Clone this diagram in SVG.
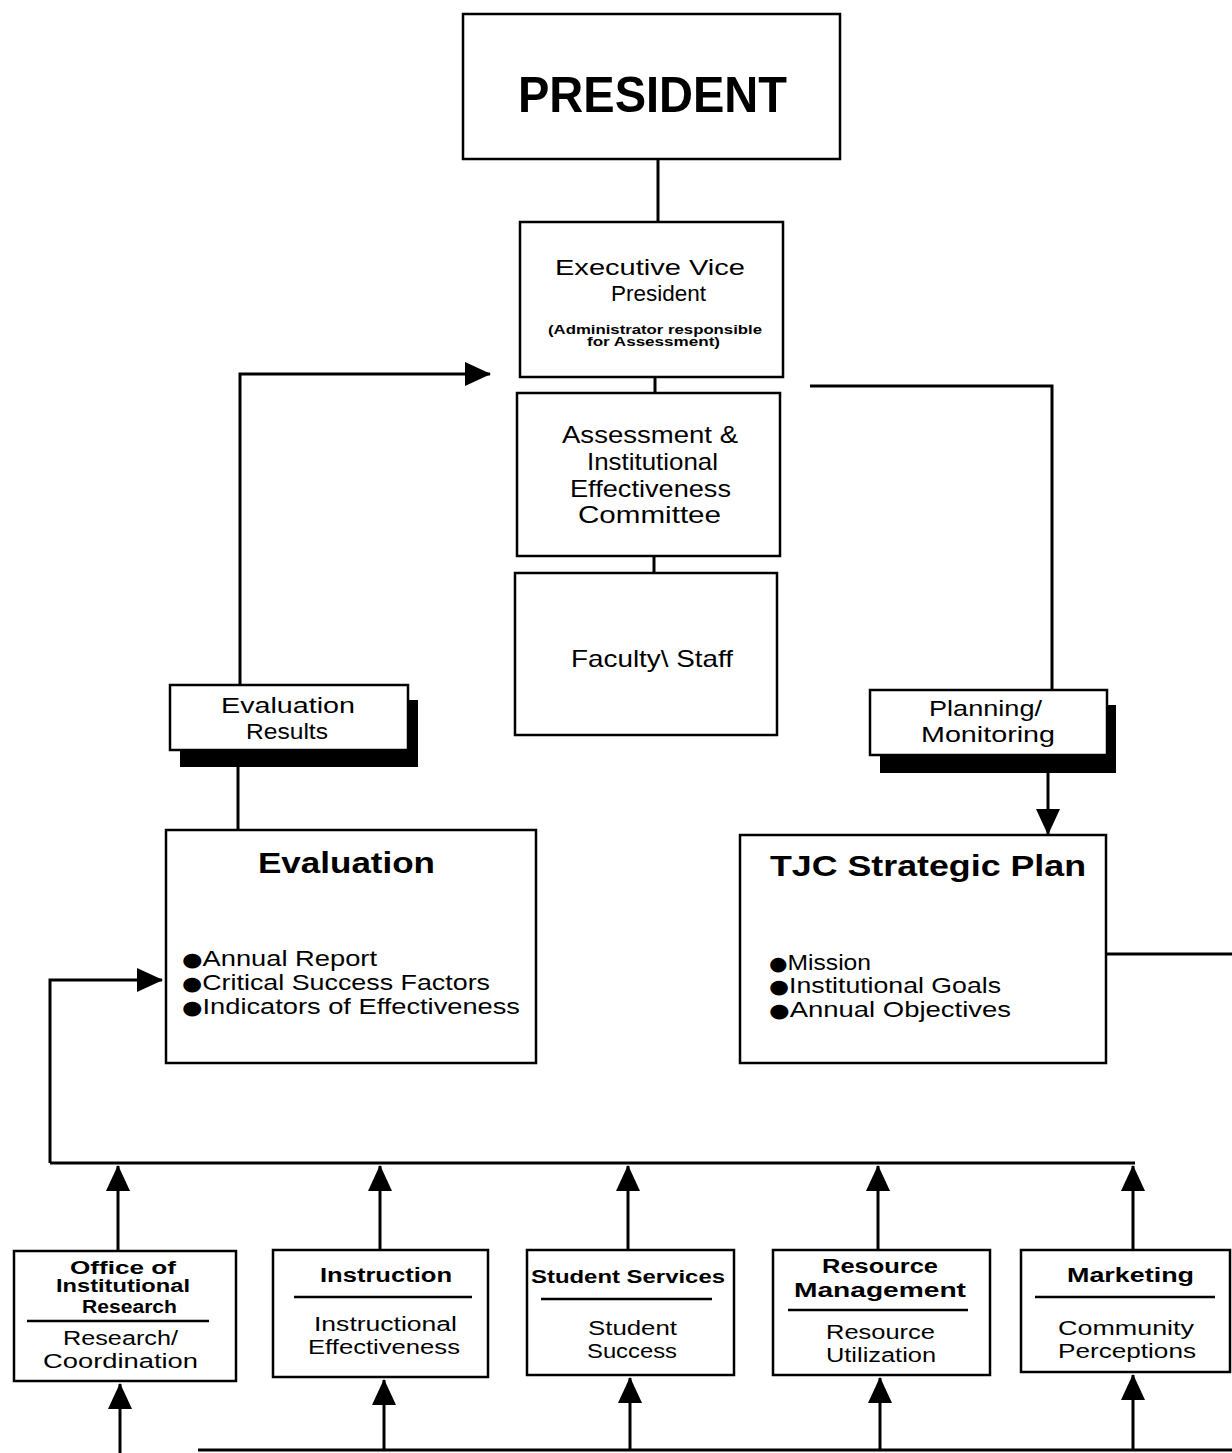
<svg xmlns="http://www.w3.org/2000/svg" width="1232" height="1453" viewBox="0 0 1232 1453">
<defs>
<marker id="ah" markerUnits="userSpaceOnUse" markerWidth="26" markerHeight="24" viewBox="0 0 26 24" refX="25" refY="12" orient="auto">
<path d="M0,0 L26,12 L0,24 Z" fill="#000"/>
</marker>
</defs>
<style>
.box{fill:#fff;stroke:#000;stroke-width:2.5}
.sh{fill:#000}
.ln{fill:none;stroke:#000;stroke-width:3}
.dv{stroke:#000;stroke-width:2.5}
text{font-family:"Liberation Sans","DejaVu Sans",Arial,sans-serif;fill:#000}
.n{font-size:22px}
.b{font-weight:bold}
.bl{font-family:"DejaVu Sans",sans-serif;font-size:19px}
</style>
<rect width="1232" height="1453" fill="#fff"/>

<g id="connectors">
<line class="ln" x1="658" y1="160" x2="658" y2="222"/>
<line class="ln" x1="655" y1="377" x2="655" y2="393"/>
<line class="ln" x1="654" y1="556" x2="654" y2="573"/>
<polyline class="ln" points="240,685 240,374 490,374" marker-end="url(#ah)"/>
<line class="ln" x1="238" y1="750" x2="238" y2="830"/>
<polyline class="ln" points="810,386 1052,386 1052,690"/>
<line class="ln" x1="1048" y1="755" x2="1048" y2="834" marker-end="url(#ah)"/>
<line class="ln" x1="1106" y1="954" x2="1232" y2="954"/>
<polyline class="ln" points="50,1163 50,980 162,980" marker-end="url(#ah)"/>
<line class="ln" x1="50" y1="1163" x2="1135" y2="1163"/>
<line class="ln" x1="118" y1="1251" x2="118" y2="1166" marker-end="url(#ah)"/>
<line class="ln" x1="380" y1="1250" x2="380" y2="1166" marker-end="url(#ah)"/>
<line class="ln" x1="628" y1="1250" x2="628" y2="1166" marker-end="url(#ah)"/>
<line class="ln" x1="878" y1="1250" x2="878" y2="1166" marker-end="url(#ah)"/>
<line class="ln" x1="1133" y1="1250" x2="1133" y2="1166" marker-end="url(#ah)"/>
<line class="ln" x1="198" y1="1450" x2="1232" y2="1450"/>
<line class="ln" x1="120" y1="1453" x2="120" y2="1384" marker-end="url(#ah)"/>
<line class="ln" x1="384" y1="1450" x2="384" y2="1380" marker-end="url(#ah)"/>
<line class="ln" x1="630" y1="1450" x2="630" y2="1378" marker-end="url(#ah)"/>
<line class="ln" x1="880" y1="1450" x2="880" y2="1378" marker-end="url(#ah)"/>
<line class="ln" x1="1133" y1="1450" x2="1133" y2="1375" marker-end="url(#ah)"/>
</g>

<g id="president">
<rect class="box" x="463" y="14" width="377" height="145"/>
<text x="518" y="112" font-size="50" class="b" textLength="269" lengthAdjust="spacingAndGlyphs">PRESIDENT</text>
</g>

<g id="evp">
<rect class="box" x="520" y="222" width="263" height="155"/>
<text class="n" x="555" y="275" textLength="190" lengthAdjust="spacingAndGlyphs">Executive Vice</text>
<text class="n" x="611" y="301" textLength="95" lengthAdjust="spacingAndGlyphs">President</text>
<text x="548" y="334" font-size="12" class="b" textLength="214" lengthAdjust="spacingAndGlyphs">(Administrator responsible</text>
<text x="587" y="346" font-size="12" class="b" textLength="133" lengthAdjust="spacingAndGlyphs">for Assessment)</text>
</g>

<g id="committee">
<rect class="box" x="517" y="393" width="263" height="163"/>
<text x="562" y="443" font-size="24" textLength="176" lengthAdjust="spacingAndGlyphs">Assessment &amp;</text>
<text x="587" y="470" font-size="24" textLength="131" lengthAdjust="spacingAndGlyphs">Institutional</text>
<text x="570" y="497" font-size="24" textLength="161" lengthAdjust="spacingAndGlyphs">Effectiveness</text>
<text x="578" y="523" font-size="24" textLength="143" lengthAdjust="spacingAndGlyphs">Committee</text>
</g>

<g id="faculty">
<rect class="box" x="515" y="573" width="262" height="162"/>
<text x="571" y="667" font-size="24" textLength="162" lengthAdjust="spacingAndGlyphs">Faculty\ Staff</text>
</g>

<g id="eval-results">
<rect class="sh" x="180" y="700" width="238" height="67"/>
<rect class="box" x="170" y="685" width="238" height="65"/>
<text class="n" x="221" y="713" textLength="134" lengthAdjust="spacingAndGlyphs">Evaluation</text>
<text class="n" x="246" y="739" textLength="82" lengthAdjust="spacingAndGlyphs">Results</text>
</g>

<g id="planning">
<rect class="sh" x="880" y="705" width="236" height="68"/>
<rect class="box" x="870" y="690" width="237" height="65"/>
<text class="n" x="929" y="716" textLength="113" lengthAdjust="spacingAndGlyphs">Planning/</text>
<text class="n" x="921" y="742" textLength="134" lengthAdjust="spacingAndGlyphs">Monitoring</text>
</g>

<g id="evaluation">
<rect class="box" x="166" y="830" width="370" height="233"/>
<text x="258" y="873" font-size="30" class="b" textLength="177" lengthAdjust="spacingAndGlyphs">Evaluation</text>
<text class="n" x="182" y="966" textLength="195" lengthAdjust="spacingAndGlyphs"><tspan class="bl">●</tspan>Annual Report</text>
<text class="n" x="182" y="990" textLength="308" lengthAdjust="spacingAndGlyphs"><tspan class="bl">●</tspan>Critical Success Factors</text>
<text class="n" x="182" y="1014" textLength="338" lengthAdjust="spacingAndGlyphs"><tspan class="bl">●</tspan>Indicators of Effectiveness</text>
</g>

<g id="strategic-plan">
<rect class="box" x="740" y="835" width="366" height="228"/>
<text x="770" y="876" font-size="30" class="b" textLength="316" lengthAdjust="spacingAndGlyphs">TJC Strategic Plan</text>
<text class="n" x="769" y="970" textLength="102" lengthAdjust="spacingAndGlyphs"><tspan class="bl">●</tspan>Mission</text>
<text class="n" x="769" y="993" textLength="232" lengthAdjust="spacingAndGlyphs"><tspan class="bl">●</tspan>Institutional Goals</text>
<text class="n" x="769" y="1017" textLength="242" lengthAdjust="spacingAndGlyphs"><tspan class="bl">●</tspan>Annual Objectives</text>
</g>

<g id="office-research">
<rect class="box" x="14" y="1251" width="222" height="130"/>
<text x="70" y="1274" font-size="18" class="b" textLength="106" lengthAdjust="spacingAndGlyphs">Office of</text>
<text x="56" y="1292" font-size="18" class="b" textLength="134" lengthAdjust="spacingAndGlyphs">Institutional</text>
<text x="82" y="1313" font-size="18" class="b" textLength="95" lengthAdjust="spacingAndGlyphs">Research</text>
<line class="dv" x1="27" y1="1321" x2="209" y2="1321"/>
<text x="63" y="1345" font-size="20" textLength="115" lengthAdjust="spacingAndGlyphs">Research/</text>
<text x="43" y="1368" font-size="20" textLength="155" lengthAdjust="spacingAndGlyphs">Coordination</text>
</g>

<g id="instruction">
<rect class="box" x="273" y="1250" width="215" height="127"/>
<text x="320" y="1282" font-size="20" class="b" textLength="132" lengthAdjust="spacingAndGlyphs">Instruction</text>
<line class="dv" x1="294" y1="1297" x2="472" y2="1297"/>
<text x="314" y="1331" font-size="20" textLength="143" lengthAdjust="spacingAndGlyphs">Instructional</text>
<text x="308" y="1354" font-size="20" textLength="152" lengthAdjust="spacingAndGlyphs">Effectiveness</text>
</g>

<g id="student-services">
<rect class="box" x="527" y="1250" width="207" height="125"/>
<text x="531" y="1283" font-size="18" class="b" textLength="194" lengthAdjust="spacingAndGlyphs">Student Services</text>
<line class="dv" x1="541" y1="1299" x2="712" y2="1299"/>
<text x="588" y="1335" font-size="20" textLength="89" lengthAdjust="spacingAndGlyphs">Student</text>
<text x="587" y="1358" font-size="20" textLength="90" lengthAdjust="spacingAndGlyphs">Success</text>
</g>

<g id="resource-management">
<rect class="box" x="773" y="1250" width="217" height="125"/>
<text x="822" y="1273" font-size="20" class="b" textLength="116" lengthAdjust="spacingAndGlyphs">Resource</text>
<text x="794" y="1297" font-size="20" class="b" textLength="172" lengthAdjust="spacingAndGlyphs">Management</text>
<line class="dv" x1="788" y1="1310" x2="968" y2="1310"/>
<text x="826" y="1339" font-size="20" textLength="109" lengthAdjust="spacingAndGlyphs">Resource</text>
<text x="826" y="1362" font-size="20" textLength="110" lengthAdjust="spacingAndGlyphs">Utilization</text>
</g>

<g id="marketing">
<rect class="box" x="1021" y="1250" width="209" height="122"/>
<text x="1067" y="1282" font-size="20" class="b" textLength="127" lengthAdjust="spacingAndGlyphs">Marketing</text>
<line class="dv" x1="1035" y1="1297" x2="1215" y2="1297"/>
<text x="1058" y="1335" font-size="20" textLength="136" lengthAdjust="spacingAndGlyphs">Community</text>
<text x="1058" y="1358" font-size="20" textLength="138" lengthAdjust="spacingAndGlyphs">Perceptions</text>
</g>
</svg>
